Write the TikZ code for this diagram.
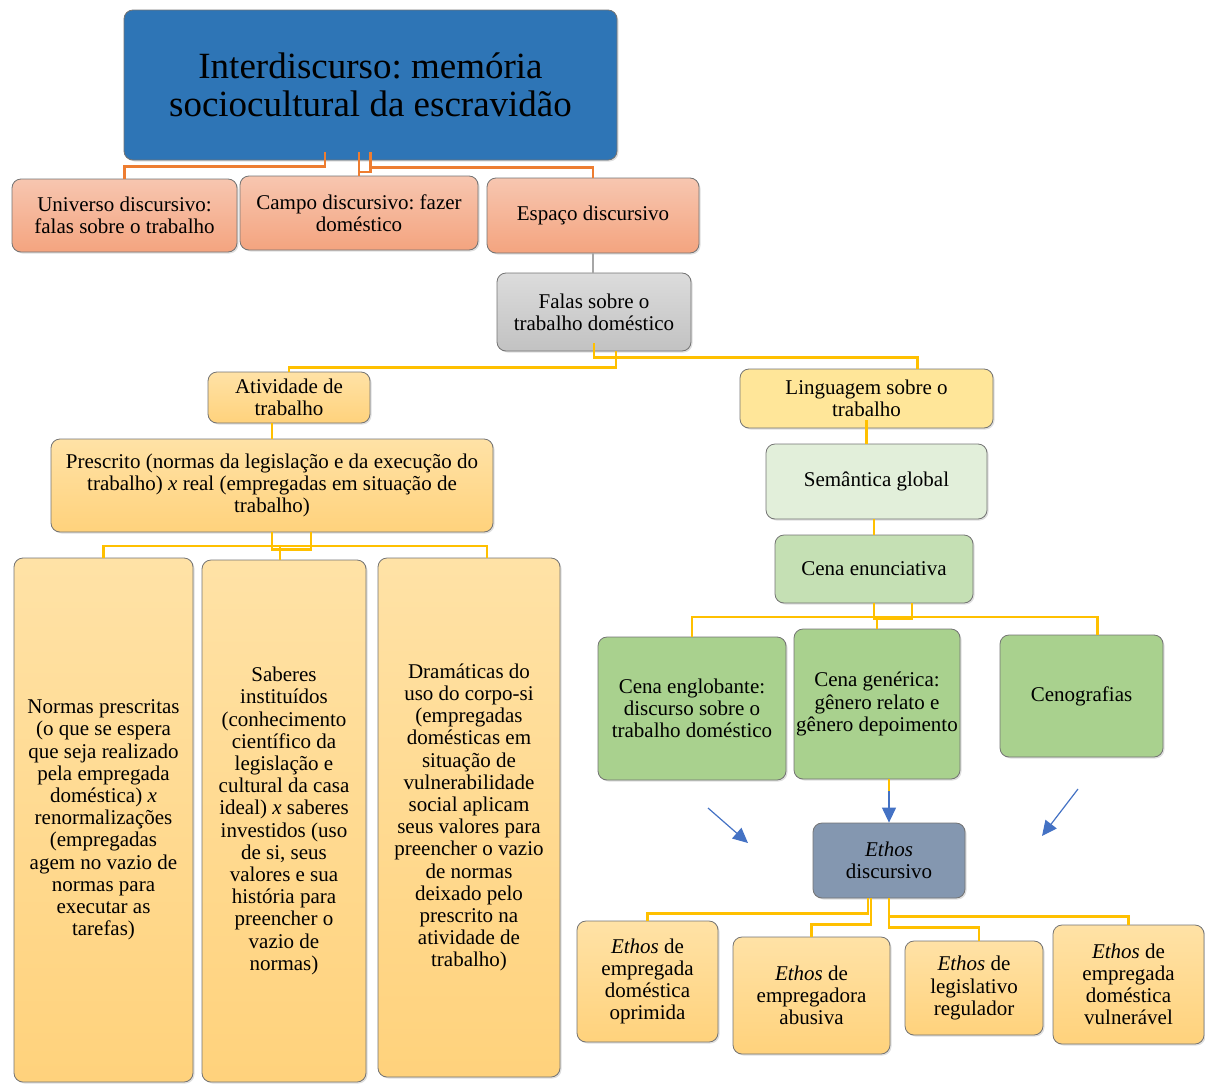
\documentclass[tikz,border=0pt]{standalone}
\usepackage{fontspec}
\setmainfont{Liberation Serif}
\frenchspacing
\usetikzlibrary{positioning,arrows.meta,shadows}

\definecolor{titleblue}{HTML}{2E75B6}
\definecolor{salmontop}{HTML}{F7C6B0}
\definecolor{salmonbot}{HTML}{F4A47F}
\definecolor{graytop}{HTML}{DCDCDC}
\definecolor{graybot}{HTML}{C2C2C2}
\definecolor{peachtop}{HTML}{FFE2A6}
\definecolor{peachbot}{HTML}{FFD27C}
\definecolor{lightyellow}{HTML}{FFE699}
\definecolor{palegreen}{HTML}{E2EFDA}
\definecolor{midgreen}{HTML}{C5E0B4}
\definecolor{leafgreen}{HTML}{A9D18E}
\definecolor{slateblue}{HTML}{8497B0}
\definecolor{orangeline}{HTML}{ED7D31}
\definecolor{goldline}{HTML}{FFC000}
\definecolor{arrowblue}{HTML}{4472C4}

\begin{document}
\begin{tikzpicture}[x=1pt, y=-1pt,
  box/.style = {draw=black!55, line width=0.8pt, rounded corners=9pt, align=center, inner sep=0pt,
                drop shadow={opacity=0.25, shadow xshift=1.5pt, shadow yshift=-1.5pt},
                font=\fontsize{21}{22.2}\selectfont},
  salmon/.style = {box, top color=salmontop, bottom color=salmonbot},
  peach/.style = {box, top color=peachtop, bottom color=peachbot},
  olink/.style = {orangeline, line width=2.2pt},
  ylink/.style = {goldline, line width=2.2pt},
  glink/.style = {black!35, line width=2.2pt},
  barrow/.style = {arrowblue, line width=1.2pt, -{Triangle[length=15pt, width=14pt]}}]
\useasboundingbox (0,0) rectangle (1205,1084);

% top
\node[box, fill=titleblue, minimum width=493, minimum height=150, font=\fontsize{37}{38}\selectfont] (interd) at (370.5,85) {Interdiscurso: memória\\sociocultural da escravidão};

% universo, campo, espaco
\node[salmon, minimum width=225, minimum height=73] (universo) at (124.5,215.5) {Universo discursivo:\\falas sobre o trabalho};
\node[salmon, minimum width=238, minimum height=74] (campo) at (359,213) {Campo discursivo: fazer\\doméstico};
\node[salmon, minimum width=212, minimum height=75] (espaco) at (593,215.5) {Espaço discursivo};
\node[box, top color=graytop, bottom color=graybot, minimum width=194, minimum height=78] (falas) at (594,312) {Falas sobre o\\trabalho doméstico};

% left branch
\node[peach, minimum width=162, minimum height=51] (atividade) at (289,397.5) {Atividade de\\trabalho};
\node[peach, minimum width=442, minimum height=93] (prescrito) at (272,485.5) {Prescrito (normas da legislação e da execução do\\trabalho) \textit{x} real (empregadas em situação de\\trabalho)};
\node[peach, minimum width=179, minimum height=524] (normas) at (103.5,820) {Normas prescritas\\(o que se espera\\que seja realizado\\pela empregada\\doméstica) \textit{x}\\renormalizações\\(empregadas\\agem no vazio de\\normas para\\executar as\\tarefas)};
\node[peach, minimum width=164, minimum height=522] (saberes) at (284,821) {Saberes\\instituídos\\(conhecimento\\científico da\\legislação e\\cultural da casa\\ideal) \textit{x} saberes\\investidos (uso\\de si, seus\\valores e sua\\história para\\preencher o\\vazio de\\normas)};
\node[peach, minimum width=182, minimum height=519] (dramaticas) at (469,817.5) {Dramáticas do\\uso do corpo-si\\(empregadas\\domésticas em\\situação de\\vulnerabilidade\\social aplicam\\seus valores para\\preencher o vazio\\de normas\\deixado pelo\\prescrito na\\atividade de\\trabalho)};

% right branch
\node[box, fill=lightyellow, minimum width=253, minimum height=59] (linguagem) at (866.5,398.5) {Linguagem sobre o\\trabalho};
\node[box, fill=palegreen, minimum width=221, minimum height=75] (semantica) at (876.5,481.5) {Semântica global};
\node[box, fill=midgreen, minimum width=198, minimum height=68] (cenaenun) at (874,569) {Cena enunciativa};
\node[box, fill=leafgreen, minimum width=188, minimum height=143] (englobante) at (692,708.5) {Cena englobante:\\discurso sobre o\\trabalho doméstico};
\node[box, fill=leafgreen, minimum width=166, minimum height=150] (generica) at (877,704) {Cena genérica:\\gênero relato e\\gênero depoimento};
\node[box, fill=leafgreen, minimum width=163, minimum height=122] (cenografias) at (1081.5,696) {Cenografias};
\node[box, fill=slateblue, minimum width=152, minimum height=75] (ethosdisc) at (889,860.5) {\textit{Ethos}\\discursivo};

% ethos
\node[peach, minimum width=141, minimum height=121] (oprimida) at (647.5,981.5) {\textit{Ethos} de\\empregada\\doméstica\\oprimida};
\node[peach, minimum width=157, minimum height=117] (abusiva) at (811.5,995.5) {\textit{Ethos} de\\empregadora\\abusiva};
\node[peach, minimum width=138, minimum height=94] (regulador) at (974,988) {\textit{Ethos} de\\legislativo\\regulador};
\node[peach, minimum width=151, minimum height=119] (vulneravel) at (1128.5,984.5) {\textit{Ethos} de\\empregada\\doméstica\\vulnerável};

\coordinate (pbar) at (0,546);
\coordinate (dtop) at ([xshift=18]dramaticas.north);
\coordinate (stop) at ([xshift=-4]saberes.north);
\coordinate (gbar) at (0,617);
\coordinate (cgtop) at ([xshift=16]cenografias.north);
\coordinate (arrtop) at (889,791);
\coordinate (lfrom) at (708,808);
\coordinate (lto) at (748,843);
\coordinate (rfrom) at (1078,789);
\coordinate (rto) at (1042,836);

\draw[olink] ([xshift=-45.5,yshift=8]interd.south) -- ++(0,14) -| (universo.north);
\draw[olink] ([yshift=8]interd.south -| campo.north) -- (campo.north);
\draw[olink] ([yshift=8]interd.south) |- ([yshift=4]campo.north);
\draw[olink] ([yshift=8]interd.south) -- ++(0,15) -| (espaco.north);
\draw[glink] (espaco.south) -- (espaco.south |- falas.north);

\draw[ylink] ([yshift=8]falas.south) -- ++(0,14) -| ([xshift=51]linguagem.north);
\draw[ylink] ([xshift=22]falas.south) -- ++(0,16) -| (atividade.north);
\draw[ylink] (atividade.south -| prescrito.north) -- (prescrito.north);
\draw[ylink] (prescrito.south) -- ++(0,17) -| ([xshift=39]prescrito.south);
\draw[ylink] (normas.north) -- (normas.north |- pbar) -- (dtop |- pbar) -- (dtop);
\draw[ylink] (stop) -- (stop |- pbar);

\draw[ylink] ([yshift=8]linguagem.south) -- (linguagem.south |- semantica.north);
\draw[ylink] (semantica.south -| cenaenun.north) -- (cenaenun.north);
\draw[ylink] (cenaenun.south) -- ++(0,15) -| ([xshift=38]cenaenun.south);
\draw[ylink] (englobante.north) -- (englobante.north |- gbar) -- (cgtop |- gbar) -- (cgtop);
\draw[ylink] (generica.north) -- (generica.north |- gbar);

\draw[ylink] (generica.south -| ethosdisc.north) -- (arrtop);
\draw[barrow] (arrtop) -- (ethosdisc.north);
\draw[barrow] (lfrom) -- (lto);
\draw[barrow] (rfrom) -- (rto);

\draw[ylink] ([xshift=-21]ethosdisc.south) -- ++(0,15) -| (oprimida.north);
\draw[ylink] ([xshift=-18]ethosdisc.south) -- ++(0,26) -| (abusiva.north);
\draw[ylink] (ethosdisc.south) -- ++(0,18) -| (vulneravel.north);
\draw[ylink] (ethosdisc.south) -- ++(0,29) -| ([xshift=5]regulador.north);
\end{tikzpicture}
\end{document}
